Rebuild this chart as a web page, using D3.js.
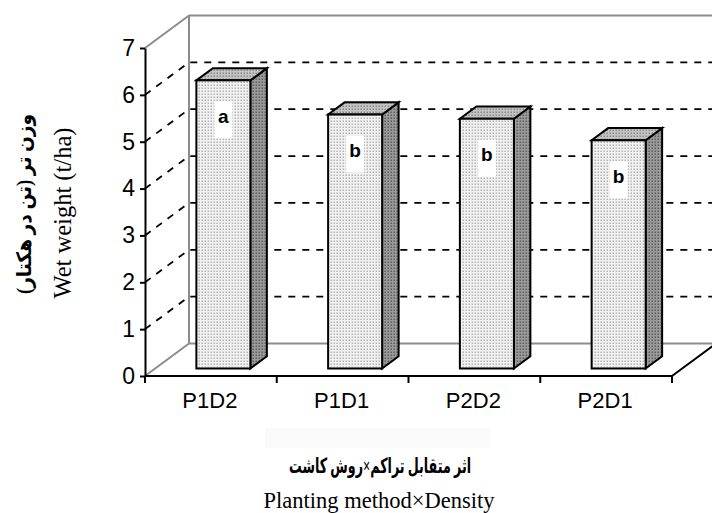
<!DOCTYPE html>
<html><head><meta charset="utf-8">
<script src="https://cdn.jsdelivr.net/npm/d3@7"></script>
<style>body{margin:0;background:#fff} svg{display:block}</style>
</head><body>
<svg id="c" width="712" height="513"></svg>
<script>
const categories = ["P1D2", "P1D1", "P2D2", "P2D1"];
const values = [6.15, 5.42, 5.33, 4.87];
const letters = ["a", "b", "b", "b"];
const yTicks = [0, 1, 2, 3, 4, 5, 6, 7];
const gridValues = [1, 2, 3, 4, 5, 6];
const yTitleFa = "وزن تر (تن در هکتار)";
const yTitleEn = "Wet weight (t/ha)";
const xTitleFa = "اثر متقابل تراکم×روش کاشت";
const xTitleEn = "Planting method×Density";

const svg = d3.select("#c");
const x = d3.scaleBand().domain(categories).range([145, 672]);
const y = d3.scaleLinear().domain([0, 7]).range([376, 48]);
const DX = 44, DY = 32.5;      // wall depth offset
const fDX = 12.5, fDY = 7.5;   // bar front plane offset
const bDX = 16.5, bDY = 12.2;  // bar depth
const barW = 54;
const x0 = x.range()[0], x1 = x.range()[1];
const y0 = y(0), yTop = y(7);

// patterns
const defs = svg.append("defs");
function pat(id, bg, dot) {
  const p = defs.append("pattern").attr("id", id).attr("patternUnits", "userSpaceOnUse")
    .attr("width", 3).attr("height", 3);
  p.append("rect").attr("width", 3).attr("height", 3).attr("fill", bg);
  p.append("rect").attr("x", 0.5).attr("y", 0.5).attr("width", 1.5).attr("height", 1.5).attr("fill", dot);
}
pat("pFront", "#f2f2f2", "#b4b4b4");
pat("pTop", "#c4c4c4", "#8a8a8a");
pat("pSide", "#9a9a9a", "#5e5e5e");

const grey = "#8c8c8c";
// back wall & floor (grey)
const g = svg.append("g");
g.append("line").attr("x1", x0 + DX).attr("y1", yTop - DY).attr("x2", x1 + DX).attr("y2", yTop - DY)
  .attr("stroke", grey).attr("stroke-width", 2);
g.append("line").attr("x1", x0).attr("y1", yTop).attr("x2", x0 + DX).attr("y2", yTop - DY)
  .attr("stroke", grey).attr("stroke-width", 2);
g.append("line").attr("x1", x0 + DX).attr("y1", yTop - DY).attr("x2", x0 + DX).attr("y2", y0 - DY)
  .attr("stroke", grey).attr("stroke-width", 2);
g.append("line").attr("x1", x0 + DX).attr("y1", y0 - DY).attr("x2", x1 + DX).attr("y2", y0 - DY)
  .attr("stroke", grey).attr("stroke-width", 2);
g.append("line").attr("x1", x0).attr("y1", y0).attr("x2", x0 + DX).attr("y2", y0 - DY)
  .attr("stroke", grey).attr("stroke-width", 2);

// dashed gridlines
const grid = svg.append("g").attr("stroke", "#000").attr("stroke-width", 1.8)
  .attr("stroke-dasharray", "7,7").attr("fill", "none");
grid.selectAll("path").data(gridValues).join("path")
  .attr("d", v => `M${x0},${y(v)}L${x0 + DX},${y(v) - DY}L${x1 + DX},${y(v) - DY}`);

// bars
const bars = svg.append("g").attr("stroke", "#000").attr("stroke-width", 2).attr("stroke-linejoin", "miter");
categories.forEach((c, i) => {
  const cx = x(c) + x.bandwidth() / 2 + fDX;
  const L = cx - barW / 2, R = cx + barW / 2;
  const B = y(0) - fDY, T = y(values[i]) - fDY;
  bars.append("path").attr("fill", "url(#pSide)")
    .attr("d", `M${R},${B}L${R + bDX},${B - bDY}L${R + bDX},${T - bDY}L${R},${T}Z`);
  bars.append("path").attr("fill", "url(#pTop)")
    .attr("d", `M${L},${T}L${L + bDX},${T - bDY}L${R + bDX},${T - bDY}L${R},${T}Z`);
  bars.append("rect").attr("fill", "url(#pFront)")
    .attr("x", L).attr("y", T).attr("width", barW).attr("height", B - T);
  // significance label
  const ly = T + 36;
  svg.append("rect").attr("x", cx - 9).attr("y", ly - 15).attr("width", 18).attr("height", 37)
    .attr("fill", "#fff");
  svg.append("text").attr("x", cx).attr("y", ly).attr("text-anchor", "middle")
    .attr("dominant-baseline", "central")
    .attr("font-family", "'Liberation Sans', Arial, sans-serif").attr("font-weight", "bold")
    .attr("font-size", 19).text(letters[i]);
});

// floor front & right edges (black)
svg.append("line").attr("x1", x0).attr("y1", y0).attr("x2", x1).attr("y2", y0)
  .attr("stroke", "#000").attr("stroke-width", 2);
svg.append("line").attr("x1", x1).attr("y1", y0).attr("x2", x1 + DX).attr("y2", y0 - DY)
  .attr("stroke", "#000").attr("stroke-width", 2);

// x ticks at band boundaries
const bounds = categories.map(c => x(c)).concat([x1]);
svg.append("g").selectAll("line").data(bounds).join("line")
  .attr("x1", d => d).attr("x2", d => d).attr("y1", y0).attr("y2", y0 + 7)
  .attr("stroke", "#000").attr("stroke-width", 2);

// x labels via axis
const xAxis = svg.append("g").attr("transform", `translate(-1,${y0})`)
  .call(d3.axisBottom(x).tickSize(0).tickPadding(16));
xAxis.select(".domain").remove();
xAxis.selectAll("text").attr("font-family", "'Liberation Sans', Arial, sans-serif")
  .attr("font-size", 22).attr("fill", "#000");

// y axis
const yAxis = svg.append("g").attr("transform", `translate(${x0},0)`)
  .call(d3.axisLeft(y).tickValues(yTicks).tickFormat(d3.format("d"))
    .tickSize(5).tickSizeOuter(0).tickPadding(5));
yAxis.select(".domain").attr("stroke", "#000").attr("stroke-width", 2);
yAxis.selectAll(".tick line").attr("stroke", "#000").attr("stroke-width", 2);
yAxis.selectAll("text").attr("font-family", "'Liberation Sans', Arial, sans-serif")
  .attr("font-size", 23).attr("fill", "#000");

// titles
const serif = "'Liberation Serif', 'Times New Roman', 'DejaVu Sans', serif";
svg.append("text").attr("transform", "translate(24,204) rotate(-90)")
  .attr("text-anchor", "middle").attr("dominant-baseline", "central")
  .attr("font-family", serif).attr("font-weight", "bold").attr("font-size", 20)
  .attr("direction", "rtl").attr("textLength", 180).attr("lengthAdjust", "spacingAndGlyphs")
  .text(yTitleFa);
svg.append("text").attr("transform", "translate(62,213) rotate(-90)")
  .attr("text-anchor", "middle").attr("dominant-baseline", "central")
  .attr("font-family", serif).attr("font-size", 24.5).text(yTitleEn);

svg.append("rect").attr("x", 265).attr("y", 428).attr("width", 225).attr("height", 20).attr("fill", "#fafafa");
svg.append("text").attr("x", 380).attr("y", 473).attr("text-anchor", "middle")
  .attr("font-family", serif).attr("font-weight", "bold").attr("font-size", 21)
  .attr("direction", "rtl").attr("textLength", 182).attr("lengthAdjust", "spacingAndGlyphs")
  .text(xTitleFa);
svg.append("text").attr("x", 379).attr("y", 508).attr("text-anchor", "middle")
  .attr("font-family", serif).attr("font-size", 22.5).text(xTitleEn);
</script>
</body></html>
